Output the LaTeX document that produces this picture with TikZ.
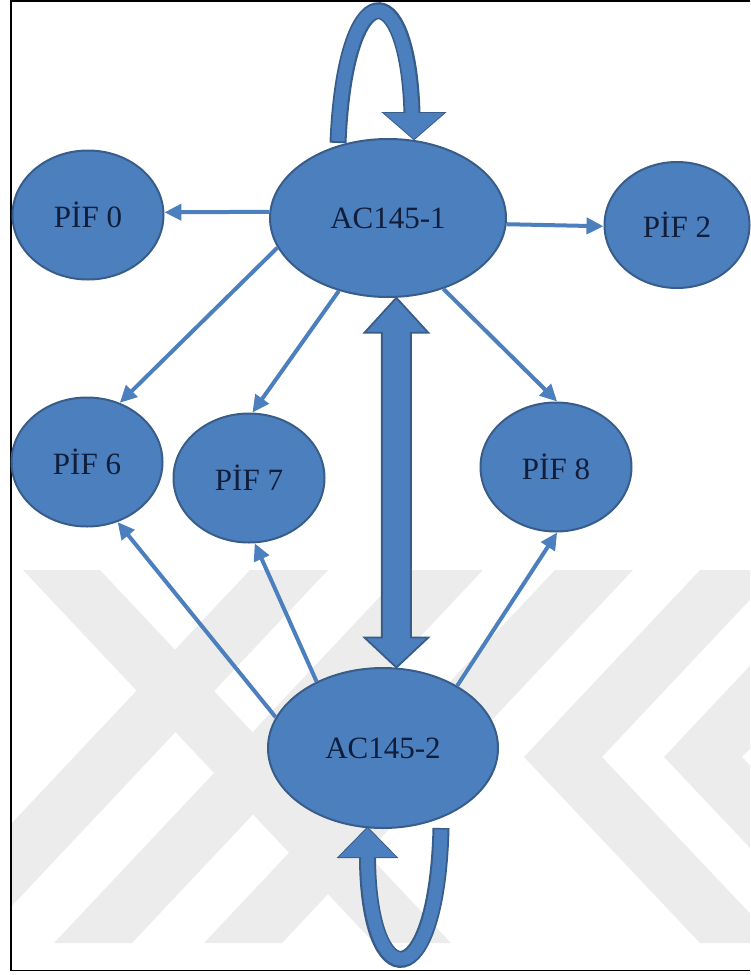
\documentclass[tikz,border=0pt]{standalone}
\usepackage{fontspec}
\setmainfont{Liberation Serif}
\usetikzlibrary{shapes.geometric,arrows.meta,calc}
\definecolor{nodefill}{RGB}{76,127,189}
\definecolor{nodeline}{RGB}{56,93,138}
\definecolor{txt}{RGB}{16,30,60}
\definecolor{wm}{RGB}{236,236,236}
\begin{document}
\begin{tikzpicture}[x=1pt,y=-1pt,
  state/.style={ellipse, draw=nodeline, line width=2pt, fill=nodefill, inner sep=0pt,
    text=txt, font=\fontsize{31}{31}\selectfont},
  bignode/.style={state, minimum width=236pt, minimum height=158pt},
  pifnode/.style={state, minimum width=151pt, minimum height=129pt},
  link/.style={draw=nodefill, line width=4pt, -{Triangle[length=17pt,width=16pt]}},
  block/.style={fill=nodefill, draw=nodeline, line width=1.8pt, line join=miter},
  wmark/.style={fill=wm, draw=none}]
\useasboundingbox (0,0) rectangle (750,975);
% watermark
\begin{scope}
\clip (12,570) rectangle (750,943);
\fill[wmark] (250,570) -- (328,570) -- (-23,943) -- (-101,943) -- cycle;
\fill[wmark] (405,570) -- (483,570) -- (132,943) -- (54,943) -- cycle;
\fill[wmark] (555,570) -- (633,570) -- (282,943) -- (204,943) -- cycle;
\fill[wmark] (23,570) -- (100,570) -- (451,943) -- (374,943) -- cycle;
\fill[wmark] (700,570) -- (778,570) -- (602,757) -- (778,943) -- (700,943) -- (524,757) -- cycle;
\fill[wmark] (840,570) -- (918,570) -- (742,757) -- (918,943) -- (840,943) -- (664,757) -- cycle;
\end{scope}
% frame
\draw[black, line width=1.8pt] (750,1) -- (11,1) -- (11,970.5) -- (750,970.5);
% nodes
\node[bignode] (ac1) at (388,218) {AC145-1};
\node[bignode, minimum width=230pt, minimum height=160pt] (ac2) at (383,748) {AC145-2};
\node[pifnode] (pif0) at (88,215) {PİF 0};
\node[pifnode, minimum width=145pt, minimum height=126pt] (pif2) at (677,225) {PİF 2};
\node[pifnode] (pif6) at (87,462) {PİF 6};
\node[pifnode] (pif7) at (249,478) {PİF 7};
\node[pifnode] (pif8) at (556,467) {PİF 8};
% thin arrows
\draw[link] (ac1.177) -- (pif0.2);
\draw[link] (ac1.357) -- (pif2.181);
\draw[link] (ac1.195) -- (pif6.61);
\draw[link] (ac1.236) -- (pif7.87);
\draw[link] (ac1.308) -- (pif8.89);
\draw[link] (ac2.164) -- (pif6.297);
\draw[link] (ac2.135) -- (pif7.275);
\draw[link] (ac2.40) -- (pif8.271);
% thick double arrow
\coordinate (dt) at (ac1.276);
\coordinate (db) at (ac2.81);
\draw[block] let \p1=(dt), \p2=(db) in
  (\x1,\y1) -- (\x1+32pt,\y1-35pt) -- (\x1+14.5pt,\y1-35pt) -- (\x1+14.5pt,\y2+30pt)
  -- (\x1+32pt,\y2+30pt) -- (\x1,\y2) -- (\x1-32pt,\y2+30pt) -- (\x1-14.5pt,\y2+30pt)
  -- (\x1-14.5pt,\y1-35pt) -- (\x1-32pt,\y1-35pt) -- cycle;
% top self loop
\coordinate (ta) at (338,143);
\coordinate (tb) at (412,113);
\coordinate (tt) at (414,139);
\draw[nodeline, line width=17pt] (ta) .. controls (345,-28) and (408,-28) .. (tb);
\filldraw[fill=nodeline, draw=nodeline, line width=2pt, line join=miter] (384,113) -- (444,113) -- (tt) -- cycle;
\draw[nodefill, line width=13pt] (338,141) .. controls (345,-28) and (408,-28) .. (412,116);
\fill[nodefill] (384,113) -- (444,113) -- (tt) -- cycle;
% bottom self loop
\coordinate (ba) at (441,828);
\coordinate (bb) at (367.5,857);
\coordinate (bt) at (367.5,828);
\draw[nodeline, line width=17pt] (ba) .. controls (437,998) and (368,998) .. (bb);
\filldraw[fill=nodeline, draw=nodeline, line width=2pt, line join=miter] (339,857) -- (396,857) -- (bt) -- cycle;
\draw[nodefill, line width=13pt] (441,829.5) .. controls (437,998) and (368,998) .. (367.5,854);
\fill[nodefill] (339,857) -- (396,857) -- (bt) -- cycle;
\end{tikzpicture}
\end{document}
